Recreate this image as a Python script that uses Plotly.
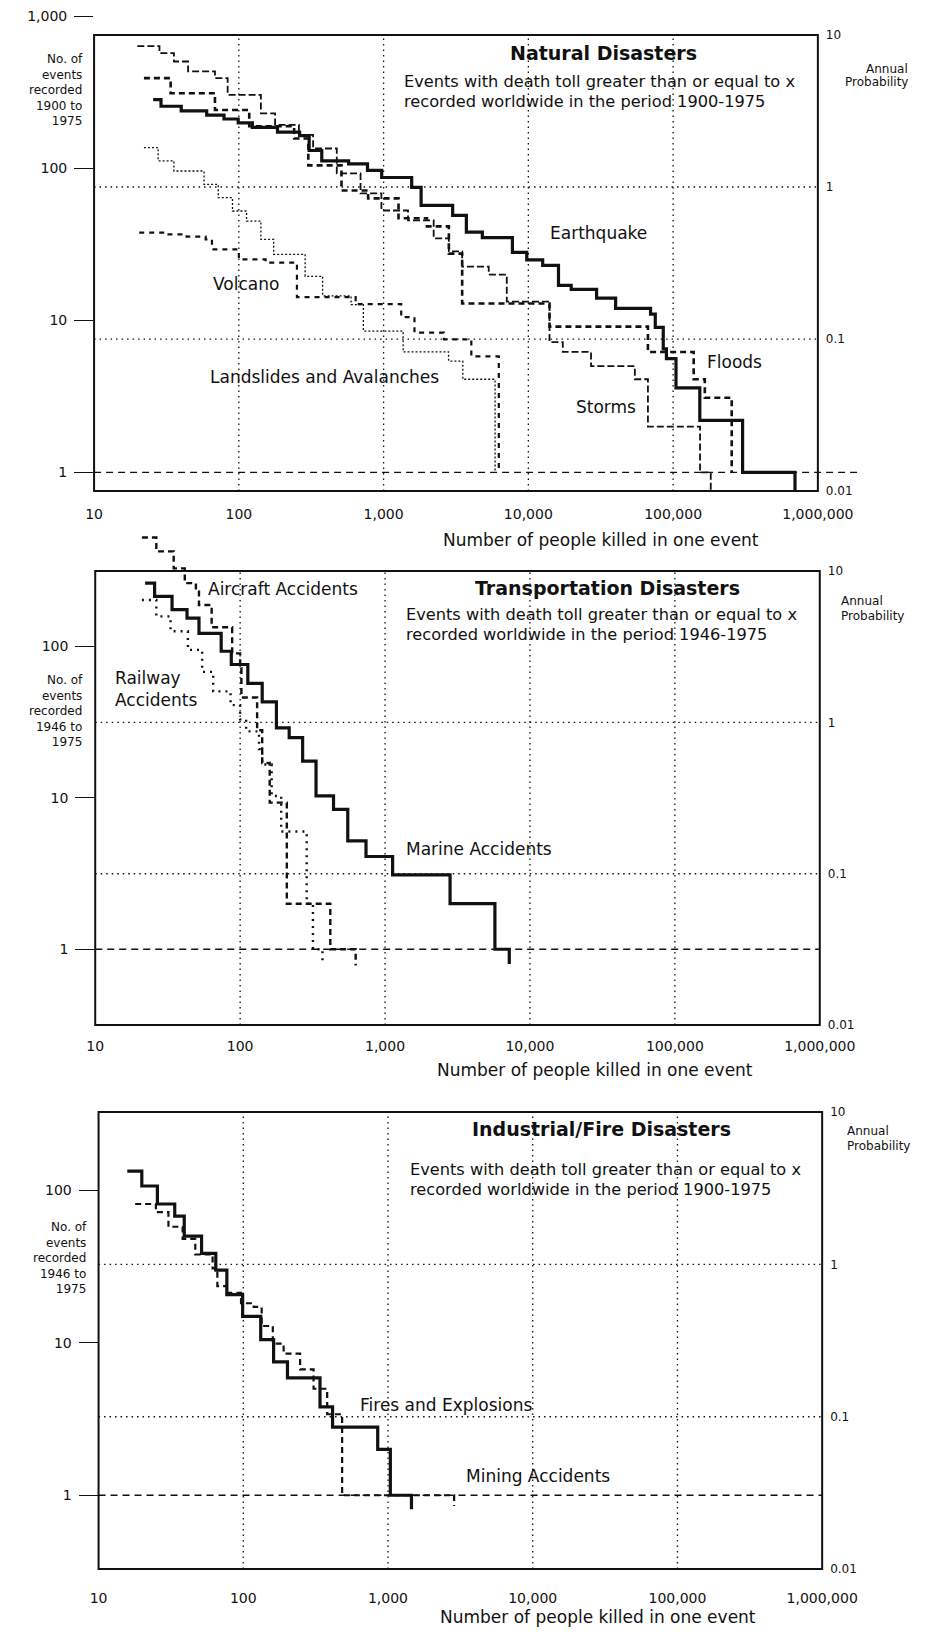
import plotly.graph_objects as go

W, H = 952, 1634
FONT = "DejaVu Sans"
INK = "#111111"

# ---------------- data (deaths per event x, number of events >= x) ----------------
# Natural disasters 1900-1975
quake_x = [25.6, 29, 40, 60, 79, 99, 124, 185, 263, 306, 374, 573, 774, 970, 1563, 1816, 3000,
           3730, 4810, 7760, 9750, 12560, 16150, 19770, 29600, 40080, 69850, 75300, 85500, 89900,
           104700, 152900, 302000, 695000]
quake_n = [283, 256, 239, 224, 211, 199, 186, 173, 164, 131, 112, 107, 97, 87, 75, 57, 49,
           38, 35, 28, 25, 23, 17, 16, 14, 12, 11, 9, 6.5, 5.6, 3.6, 2.2, 1, 0.75]
storms_x = [19.9, 28.3, 35.6, 44.6, 68.4, 83.7, 142, 178, 260, 326, 475, 693, 966, 1475, 2218,
            2824, 3490, 5325, 7095, 14000, 17300, 27100, 54400, 67000, 153500, 182000]
storms_n = [636, 572, 504, 434, 392, 304, 230, 193, 166, 135, 92.5, 68.4, 52.8, 45.4, 34.6,
            28.4, 22.6, 20.0, 13.3, 7.2, 6.2, 5.0, 4.1, 2.0, 1, 0.75]
floods_x = [22.1, 33.8, 68.4, 118, 241, 302, 512, 782, 1268, 1994, 2824, 3490, 14000, 67000,
            138700, 165600, 254000]
floods_n = [392, 312, 242, 189, 157, 104.5, 71.5, 63.4, 46.9, 41.5, 27.5, 12.9, 9.1, 6.2,
            4.1, 3.1, 1]
landslide_x = [22.1, 27.7, 35.6, 57.5, 72.1, 90.4, 113, 142, 174, 287, 379, 596, 725, 1365,
               2812, 3526, 5890]
landslide_n = [137, 112, 96, 78.5, 64.1, 52.4, 45, 34.1, 27.2, 19.5, 14.5, 12.7, 8.5, 6.2,
               5.4, 4.1, 1]
volcano_x = [20.5, 30.7, 43.6, 59, 65.2, 100, 153, 252, 641, 1324, 1634, 2612, 4036, 6250]
volcano_n = [37.8, 36.8, 35.6, 34.1, 29.3, 25.2, 24, 14.2, 12.8, 10.5, 8.3, 7.5, 5.8, 1]

# Transportation disasters 1946-1975
marine_x = [22.1, 25.7, 33.9, 43, 52, 74, 86.9, 113, 142, 178, 218, 270, 334, 441, 553, 739,
            1128, 2810, 5730, 7200]
marine_n = [262, 214, 175, 154, 122, 93, 76, 57, 43, 29, 25, 17.5, 10.3, 8.4, 5.2, 4.1,
            3.1, 2, 1, 0.8]
aircraft_x = [21, 26.4, 34.8, 41.5, 49.5, 52, 63.6, 88.1, 100, 102, 131, 142, 160, 210, 419, 627]
aircraft_n = [525, 425, 328, 262, 237, 188, 134, 90, 72, 46, 28, 17, 9.3, 2.0, 1, 0.78]
railway_x = [21, 26.4, 33.1, 43.6, 54.7, 65.2, 85.9, 100, 110, 135, 142, 165, 192, 288, 318, 370]
railway_n = [203, 158, 126, 95, 68, 50.5, 41, 33, 27.5, 21, 16.6, 10.3, 6.0, 2.0, 1, 0.84]

# Industrial / fire disasters
fire_x = [15.8, 19.9, 25.5, 33.6, 39.1, 51.5, 64.6, 77, 99, 132, 162, 202, 339, 414, 849,
          1038, 1453]
fire_n = [134, 107, 81.5, 67.8, 50.2, 38.6, 30, 20.7, 14.9, 10.5, 7.5, 5.9, 3.8, 2.8, 2.0,
          1, 0.81]
mining_x = [17.9, 24.9, 30.4, 38.1, 46.6, 61.4, 66.2, 77, 96.5, 118, 134, 160, 190, 247, 306,
            380, 482, 2864]
mining_n = [81.5, 72, 57.8, 48.1, 38, 30.8, 23.6, 21.3, 18.2, 17.2, 12.9, 9.9, 8.5, 6.7, 5.0,
            3.4, 1, 0.85]

# ticks / labels
x_ticks = [10, 100, 1000, 10000, 100000, 1000000]
x_tick_text = ["10", "100", "1,000", "10,000", "100,000", "1,000,000"]
x_grid = [100, 1000, 10000, 100000]
n_ticks_1 = [1, 10, 100, 1000]
n_tick_text_1 = ["1", "10", "100", "1,000"]
n_ticks_23 = [1, 10, 100]
n_tick_text_23 = ["1", "10", "100"]
p_ticks = [0.01, 0.1, 1, 10]
p_tick_text = ["0.01", "0.1", "1", "10"]
p_grid = [0.1, 1]

# ---------------- geometry (pixels) ----------------
panels = [
    dict(fx0=89.3, fx1=849.0, ft=35, fb=492, n1=473.3, dt=0, db=496, base_end=1.06,
         nt=n_ticks_1, ntt=n_tick_text_1, xstand=9),
    dict(fx0=90.5, fx1=851.0, ft=572, fb=1027, n1=951, dt=525, db=1031, base_end=1.0,
         nt=n_ticks_23, ntt=n_tick_text_23, xstand=7),
    dict(fx0=94.0, fx1=853.5, ft=1114, fb=1572, n1=1498, dt=1100, db=1576, base_end=1.0,
         nt=n_ticks_23, ntt=n_tick_text_23, xstand=15),
]

series = [
    # panel, x, n, width, dash
    (0, landslide_x, landslide_n, 1.3, "2px,2px"),
    (0, volcano_x, volcano_n, 2.2, "5px,5px"),
    (0, storms_x, storms_n, 1.8, "7px,3px"),
    (0, floods_x, floods_n, 2.6, "6px,4px"),
    (0, quake_x, quake_n, 3.2, "solid"),
    (1, railway_x, railway_n, 2.4, "2px,5px"),
    (1, aircraft_x, aircraft_n, 2.4, "6px,4px"),
    (1, marine_x, marine_n, 3.2, "solid"),
    (2, mining_x, mining_n, 2.2, "6px,4px"),
    (2, fire_x, fire_n, 3.2, "solid"),
]

fig = go.Figure()
layout = dict(width=W, height=H, margin=dict(l=0, r=0, t=0, b=0),
              paper_bgcolor="white", plot_bgcolor="rgba(0,0,0,0)",
              showlegend=False, font=dict(family=FONT, color=INK))
shapes = []

def ids(i):
    xn = "" if i == 0 else str(i + 1)
    yl = "" if i == 0 else str(2 * i + 1)
    yr = str(2 * i + 2)
    return xn, yl, yr

for i, p in enumerate(panels):
    xn, yl, yr = ids(i)
    d = (p["fb"] - p["ft"]) / 3.0
    layout["xaxis" + xn] = dict(
        domain=[p["fx0"] / W, p["fx1"] / W], type="log", range=[1, 6], anchor="y" + yl,
        tickvals=x_ticks, ticktext=x_tick_text, ticks="", showgrid=False, zeroline=False,
        showline=False, tickfont=dict(size=14, family=FONT, color=INK),
        ticklabelstandoff=p["xstand"])
    layout["yaxis" + yl] = dict(
        domain=[1 - p["db"] / H, 1 - p["dt"] / H], type="log",
        range=[-(p["db"] - p["n1"]) / d, (p["n1"] - p["dt"]) / d], anchor="x" + xn,
        tickvals=p["nt"], ticktext=p["ntt"], ticks="outside", ticklen=19, tickwidth=1.4,
        tickcolor=INK, showgrid=False, zeroline=False, showline=False,
        tickfont=dict(size=14, family=FONT, color=INK), ticklabelstandoff=4)
    layout["yaxis" + yr] = dict(
        overlaying="y" + yl, side="right", anchor="x" + xn, type="log",
        range=[-2 - (p["db"] - p["fb"]) / d, 1 + (p["ft"] - p["dt"]) / d],
        tickvals=p_ticks, ticktext=p_tick_text, ticks="", showgrid=False, zeroline=False,
        showline=False, tickfont=dict(size=12, family=FONT, color=INK), ticklabelstandoff=7)
    fig.add_trace(go.Scatter(x=[], y=[], xaxis="x" + xn, yaxis="y" + yr, showlegend=False))

    # dotted grid
    for gx in x_grid:
        shapes.append(dict(type="line", layer="below", xref="x" + xn, yref="y" + yr,
                           x0=gx, x1=gx, y0=p_ticks[0], y1=p_ticks[-1],
                           line=dict(color=INK, width=1.3, dash="1.5px,4px")))
    for gp in p_grid:
        shapes.append(dict(type="line", layer="below", xref="x" + xn + " domain", yref="y" + yr,
                           x0=0, x1=1, y0=gp, y1=gp,
                           line=dict(color=INK, width=1.3, dash="1.5px,4px")))
    # baseline at one event
    shapes.append(dict(type="line", layer="below", xref="x" + xn + " domain", yref="y" + yl,
                       x0=0, x1=p["base_end"], y0=1, y1=1,
                       line=dict(color=INK, width=1.3, dash="7px,5px")))
    # frame
    shapes.append(dict(type="rect", layer="above", xref="x" + xn + " domain", yref="y" + yr,
                       x0=0, x1=1, y0=p_ticks[0], y1=p_ticks[-1],
                       line=dict(color=INK, width=2), fillcolor="rgba(0,0,0,0)"))

for (pi, xs, ns, w, dash) in series:
    xn, yl, yr = ids(pi)
    fig.add_trace(go.Scatter(x=xs, y=ns, mode="lines", line=dict(color=INK, width=w, dash=dash,
                             shape="hv"), xaxis="x" + xn, yaxis="y" + yl, showlegend=False,
                             hoverinfo="skip"))

def note(text, xp, yp, size=17, bold=False, xanchor="center", align="center"):
    return dict(text=("<b>%s</b>" % text) if bold else text, x=xp / W, y=1 - yp / H,
                xref="paper", yref="paper", xanchor=xanchor, yanchor="middle",
                showarrow=False, align=align, font=dict(family=FONT, size=size, color=INK))

SUB1 = "Events with death toll greater than or equal to x"
SUBF = 16.2
annotations = [
    # panel 1
    note("Natural Disasters", 624, 53, 19, True),
    note(SUB1, 413, 82, SUBF, xanchor="left"),
    note("recorded worldwide in the period 1900-1975", 413, 102, SUBF, xanchor="left"),
    note("Earthquake", 619, 233),
    note("Volcano", 249, 285),
    note("Landslides and Avalanches", 331, 378),
    note("Floods", 761, 363),
    note("Storms", 627, 408),
    note("No. of<br>events<br>recorded<br>1900 to<br>1975", 80, 90, 12, xanchor="right", align="right"),
    note("Annual", 946, 69, 12, xanchor="right"),
    note("Probability", 946, 82, 12, xanchor="right"),
    note("Number of people killed in one event", 621, 541),
    # panel 2
    note("Transportation Disasters", 628, 589, 19, True),
    note(SUB1, 415, 616, SUBF, xanchor="left"),
    note("recorded worldwide in the period 1946-1975", 415, 636, SUBF, xanchor="left"),
    note("Aircraft Accidents", 288, 590),
    note("Railway<br>Accidents", 109, 690, xanchor="left", align="left"),
    note("Marine Accidents", 415, 851, xanchor="left"),
    note("No. of<br>events<br>recorded<br>1946 to<br>1975", 80, 712, 12, xanchor="right", align="right"),
    note("Annual", 871, 602, 12, xanchor="left"),
    note("Probability", 871, 617, 12, xanchor="left"),
    note("Number of people killed in one event", 615, 1072),
    # panel 3
    note("Industrial/Fire Disasters", 622, 1131, 19, True),
    note(SUB1, 419, 1172, SUBF, xanchor="left"),
    note("recorded worldwide in the period 1900-1975", 419, 1192, SUBF, xanchor="left"),
    note("Fires and Explosions", 366, 1408, xanchor="left"),
    note("Mining Accidents", 478, 1479, xanchor="left"),
    note("No. of<br>events<br>recorded<br>1946 to<br>1975", 84, 1260, 12, xanchor="right", align="right"),
    note("Annual", 877, 1133, 12, xanchor="left"),
    note("Probability", 877, 1148, 12, xanchor="left"),
    note("Number of people killed in one event", 618, 1620),
]

layout["shapes"] = shapes
layout["annotations"] = annotations
fig.update_layout(**layout)
fig.write_html(
    "out.html",
    config={"displayModeBar": False},
    post_script=("document.documentElement.style.margin='0px';"
                 "document.body.style.margin='0px';"
                 "document.documentElement.style.overflow='hidden';"
                 "document.body.style.overflow='hidden';"),
)
